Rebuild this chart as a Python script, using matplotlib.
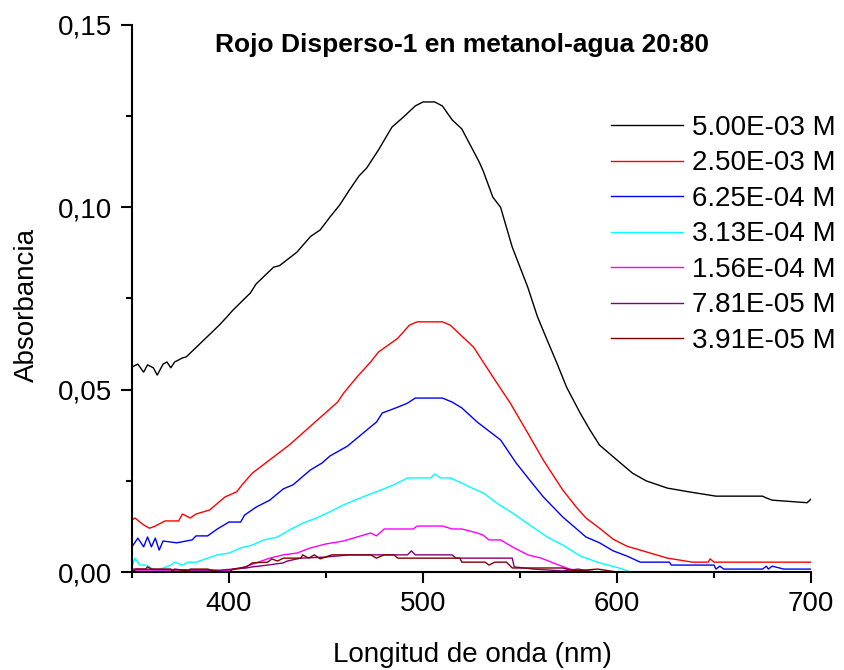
import matplotlib
matplotlib.use("Agg")
import matplotlib.pyplot as plt
from matplotlib.ticker import MultipleLocator

plt.rcParams["font.family"] = ["Liberation Sans", "DejaVu Sans"]

# ---- data (wavelength nm, absorbance) ----
wl_5e3 = [350, 353, 356, 358, 361, 363, 366, 368, 370, 372, 376, 378, 395, 399, 402,
          411, 414, 423, 426, 435, 442, 447, 452, 457, 462, 467, 471, 477, 484, 490,
          496, 500, 506, 510, 515, 520, 529, 531, 536, 540, 546, 554, 559, 564, 569,
          574, 581, 586, 591, 600, 608, 615, 626, 638, 651, 675, 677, 680, 698, 700]
abs_5e3 = [0.0562, 0.0570, 0.0548, 0.0568, 0.0560, 0.0540, 0.0570, 0.0576, 0.0560, 0.0576,
           0.0587, 0.0590, 0.0677, 0.0700, 0.0718, 0.0765, 0.0790, 0.0836, 0.0840, 0.0877,
           0.0920, 0.0938, 0.0973, 0.1006, 0.1047, 0.1086, 0.1108, 0.1157, 0.1220, 0.1248,
           0.1278, 0.1289, 0.1289, 0.1278, 0.1240, 0.1215, 0.1124, 0.1100, 0.1028, 0.1000,
           0.0891, 0.0781, 0.0700, 0.0636, 0.0573, 0.0507, 0.0436, 0.0390, 0.0348, 0.0307,
           0.0271, 0.0250, 0.0230, 0.0219, 0.0208, 0.0208, 0.0203, 0.0197, 0.0190, 0.0200]

wl_25e4 = [350, 351.5, 356, 359, 362, 367, 374, 376, 380, 383, 390, 398, 404, 407, 412,
           431, 456, 459, 466, 473, 477, 487, 493, 497, 510, 514, 526, 536, 545, 554,
           562, 572, 579, 584, 591, 598, 605, 612, 626, 639, 647, 648, 650, 700]
abs_25e4 = [0.0143, 0.0148, 0.0129, 0.0120, 0.0126, 0.0140, 0.0140, 0.0159, 0.0148, 0.0159,
            0.0170, 0.0206, 0.0220, 0.0241, 0.0271, 0.0348, 0.0466, 0.0490, 0.0535, 0.0576,
            0.0603, 0.0641, 0.0677, 0.0686, 0.0686, 0.0677, 0.0617, 0.0535, 0.0463, 0.0381,
            0.0307, 0.0225, 0.0178, 0.0148, 0.0120, 0.0090, 0.0071, 0.0060, 0.0038, 0.0027,
            0.0027, 0.0036, 0.0027, 0.0027]

wl_625e5 = [350, 353, 356, 358, 360, 362, 364, 366, 373, 381, 383, 389, 394, 400, 406,
            408, 414, 421, 428, 433, 442, 448, 452, 461, 473, 476, 479, 487, 492, 496,
            510, 515, 520, 528, 540, 548, 555, 562, 572, 584, 591, 598, 605, 612, 627,
            628, 650, 651, 653, 655, 675, 677, 678, 680, 686, 688, 700]
abs_625e5 = [0.0069, 0.0093, 0.0069, 0.0096, 0.0069, 0.0093, 0.0060, 0.0085, 0.0080, 0.0088,
             0.0099, 0.0099, 0.0118, 0.0137, 0.0137, 0.0156, 0.0178, 0.0197, 0.0228, 0.0239,
             0.0280, 0.0299, 0.0318, 0.0345, 0.0398, 0.0411, 0.0436, 0.0452, 0.0463, 0.0477,
             0.0477, 0.0466, 0.0450, 0.0411, 0.0362, 0.0299, 0.0252, 0.0206, 0.0151, 0.0096,
             0.0080, 0.0058, 0.0044, 0.0027, 0.0027, 0.0019, 0.0019, 0.0008, 0.0016, 0.0008,
             0.0008, 0.0016, 0.0008, 0.0016, 0.0008, 0.0008, 0.0008]

wl_313e4 = [350, 351.5, 354, 357, 359, 363, 366, 370, 372, 376, 379, 383, 389, 394, 400,
            406, 412, 418, 425, 431, 438, 445, 452, 459, 469, 476, 485, 492, 504, 506,
            509, 514, 520, 524, 531, 538, 546, 555, 564, 572, 581, 591, 601, 607, 700]
abs_313e4 = [0.0014, 0.0038, 0.0019, 0.0019, 0.0014, 0.0000, 0.0011, 0.0019, 0.0027, 0.0019,
             0.0027, 0.0027, 0.0038, 0.0047, 0.0052, 0.0066, 0.0074, 0.0088, 0.0096, 0.0115,
             0.0134, 0.0148, 0.0165, 0.0184, 0.0206, 0.0220, 0.0239, 0.0258, 0.0258, 0.0269,
             0.0258, 0.0258, 0.0244, 0.0233, 0.0217, 0.0189, 0.0162, 0.0129, 0.0096, 0.0074,
             0.0044, 0.0025, 0.0011, 0.0000, 0.0000]

wl_156e4 = [350, 394, 400, 406, 414, 421, 428, 435, 442, 450, 459, 466, 473, 476, 480,
            495, 497, 510, 515, 520, 528, 531, 534, 540, 546, 554, 561, 567, 574, 581, 700]
abs_156e4 = [0.0003, 0.0003, 0.0005, 0.0010, 0.0025, 0.0038, 0.0047, 0.0052, 0.0066, 0.0077,
             0.0085, 0.0096, 0.0107, 0.0099, 0.0118, 0.0118, 0.0126, 0.0126, 0.0118, 0.0118,
             0.0107, 0.0101, 0.0088, 0.0088, 0.0069, 0.0047, 0.0038, 0.0025, 0.0011, 0.0000,
             0.0000]

wl_781e5 = [350, 395, 409, 412, 420, 428, 430, 437, 450, 462, 473, 492, 494, 496, 515,
            517, 546, 547, 557, 572, 580, 585, 590, 700]
abs_781e5 = [0.0008, 0.0005, 0.0011, 0.0014, 0.0019, 0.0025, 0.0030, 0.0038, 0.0041, 0.0047,
             0.0047, 0.0047, 0.0058, 0.0047, 0.0047, 0.0038, 0.0038, 0.0014, 0.0008, 0.0003,
             0.0008, 0.0003, 0.0000, 0.0000]

wl_391e5 = [350, 352, 357, 358, 360, 370, 371, 372, 379, 380, 389, 395, 400, 402, 409,
            412, 420, 422, 425, 428, 437, 438, 441, 444, 447, 453, 473, 476, 480, 485,
            487, 519, 520, 532, 534, 537, 543, 546, 572, 578, 590, 600, 700]
abs_391e5 = [0.0000, 0.0008, 0.0008, 0.0014, 0.0008, 0.0008, 0.0003, 0.0008, 0.0003, 0.0008,
             0.0008, 0.0000, 0.0000, 0.0008, 0.0014, 0.0025, 0.0027, 0.0036, 0.0030, 0.0038,
             0.0038, 0.0047, 0.0038, 0.0047, 0.0036, 0.0047, 0.0047, 0.0038, 0.0047, 0.0047,
             0.0038, 0.0038, 0.0027, 0.0027, 0.0019, 0.0027, 0.0027, 0.0011, 0.0011, 0.0003,
             0.0008, 0.0000, 0.0000]

series = [
    (wl_5e3, abs_5e3, "#000000", "5.00E-03 M"),
    (wl_25e4, abs_25e4, "#FF0000", "2.50E-03 M"),
    (wl_625e5, abs_625e5, "#0000FF", "6.25E-04 M"),
    (wl_313e4, abs_313e4, "#00FFFF", "3.13E-04 M"),
    (wl_156e4, abs_156e4, "#FF00FF", "1.56E-04 M"),
    (wl_781e5, abs_781e5, "#800080", "7.81E-05 M"),
    (wl_391e5, abs_391e5, "#800000", "3.91E-05 M"),
]

x_ticks = [400, 500, 600, 700]
y_ticks = [0.00, 0.05, 0.10, 0.15]
y_tick_labels = ["0,00", "0,05", "0,10", "0,15"]

# ---- figure ----
W, H = 845, 670
fig = plt.figure(figsize=(W / 100, H / 100), dpi=100)
ax = fig.add_axes([132 / W, 1 - 572 / H, (811 - 132) / W, (572 - 25) / H])

for wl, ab, color, label in series:
    ax.plot(wl, ab, color=color, lw=1.0, label=label)

ax.set_xlim(350, 700)
ax.set_ylim(0, 0.15)
ax.set_xticks(x_ticks)
ax.set_yticks(y_ticks)
ax.set_yticklabels(y_tick_labels)
ax.xaxis.set_minor_locator(MultipleLocator(50))
ax.yaxis.set_minor_locator(MultipleLocator(0.025))

for side in ("top", "right"):
    ax.spines[side].set_visible(False)
for side in ("left", "bottom"):
    ax.spines[side].set_linewidth(1.5)

ax.tick_params(which="major", direction="out", length=8, width=1.5,
               labelsize=20, pad=6)
ax.tick_params(which="minor", direction="out", length=4.5, width=1.5)

fig.text(472 / W, 1 - 655 / H, "Longitud de onda (nm)", fontsize=20,
         ha="center", va="center")
fig.text(27 / W, 1 - 305 / H, "Absorbancia", fontsize=20, rotation=90,
         ha="center", va="center")
fig.text(462 / W, 1 - 45 / H, "Rojo Disperso-1 en metanol-agua 20:80",
         fontsize=19, fontweight="bold", ha="center", va="center")

ax.legend(loc="upper left", bbox_to_anchor=(611 / W, 1 - 115 / H),
          bbox_transform=fig.transFigure, frameon=False, fontsize=20,
          handlelength=2.6, handletextpad=0.32, labelspacing=0.34,
          borderpad=0, borderaxespad=0)

fig.savefig("out.png", dpi=100)
